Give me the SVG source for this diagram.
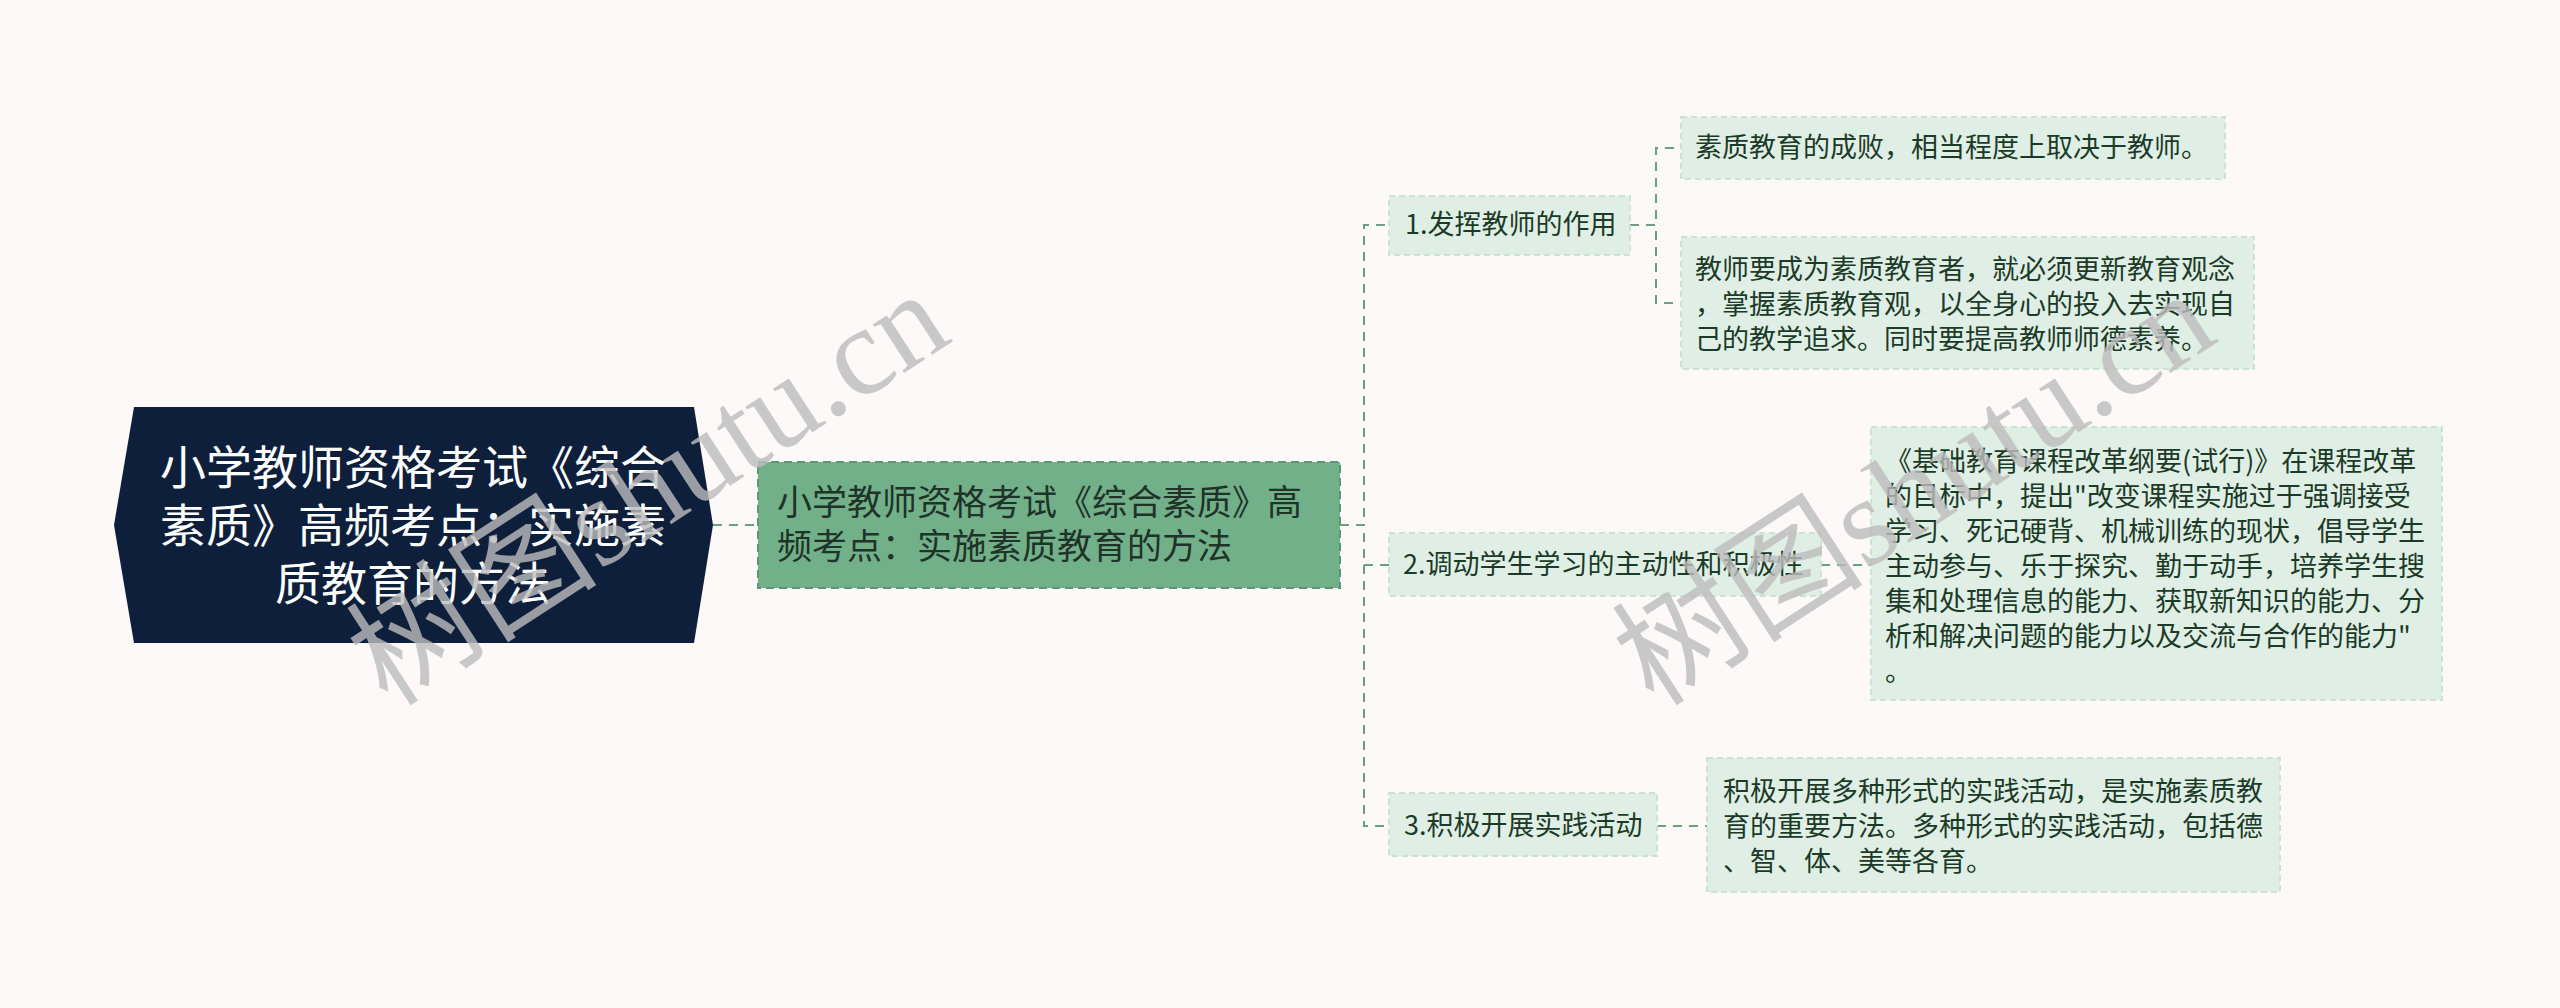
<svg xmlns="http://www.w3.org/2000/svg" width="2560" height="1008" viewBox="0 0 2560 1008">
<defs>
<style>
.t{font-family:"Noto Sans CJK SC","Noto Sans",sans-serif;}
.root-t{fill:#ffffff;font-size:46px;text-anchor:middle;}
.l1-t{fill:#1f3328;font-size:35px;}
.l2-t{fill:#1c3a28;font-size:27px;}
.l2{fill:#e0efe5;stroke:#cce3d4;stroke-width:2;stroke-dasharray:6 4;}
.l1{fill:#72b089;stroke:#5c9773;stroke-width:2;stroke-dasharray:8 5;}
.conn{fill:none;stroke:#6c9f81;stroke-width:2;stroke-dasharray:9 7;}
.wm{font-family:"Liberation Serif","Noto Sans CJK SC",serif;fill:#bdbdbd;opacity:0.8;}
</style>
</defs>
<rect x="0" y="0" width="2560" height="1008" fill="#fcf9f8"/>

<g id="connectors">
<path class="conn" d="M713 525 H758"/>
<path class="conn" d="M1340 525 H1364 V225 H1389"/>
<path class="conn" d="M1340 525 H1364 V565 H1389"/>
<path class="conn" d="M1340 525 H1364 V826 H1389"/>
<path class="conn" d="M1630 225 H1656 V148 H1681"/>
<path class="conn" d="M1630 225 H1656 V303 H1681"/>
<path class="conn" d="M1821 565 H1871"/>
<path class="conn" d="M1657 826 H1707"/>
</g>

<g id="root">
<polygon points="134,407 694,407 713,525 694,643 134,643 114,525" fill="#0e1f3b"/>
<text class="t root-t" x="413" y="484">小学教师资格考试《综合</text>
<text class="t root-t" x="413" y="542">素质》高频考点：实施素</text>
<text class="t root-t" x="413" y="600">质教育的方法</text>
</g>

<g id="main">
<rect class="l1" x="758" y="462" width="582" height="126"/>
<text class="t l1-t" x="777" y="515">小学教师资格考试《综合素质》高</text>
<text class="t l1-t" x="777" y="559">频考点：实施素质教育的方法</text>
</g>

<g id="n1">
<rect class="l2" x="1389" y="196" width="241" height="59"/>
<text class="t l2-t" x="1405" y="234">1.发挥教师的作用</text>
</g>

<g id="n2">
<rect class="l2" x="1389" y="533" width="432" height="63"/>
<text class="t l2-t" x="1403" y="574">2.调动学生学习的主动性和积极性</text>
</g>

<g id="n3">
<rect class="l2" x="1389" y="793" width="268" height="63"/>
<text class="t l2-t" x="1404" y="835">3.积极开展实践活动</text>
</g>

<g id="c1">
<rect class="l2" x="1681" y="117" width="544" height="62"/>
<text class="t l2-t" x="1695" y="157">素质教育的成败，相当程度上取决于教师。</text>
</g>

<g id="c2">
<rect class="l2" x="1681" y="237" width="573" height="132"/>
<text class="t l2-t" x="1695" y="279">教师要成为素质教育者，就必须更新教育观念</text>
<text class="t l2-t" x="1695" y="314">，掌握素质教育观，以全身心的投入去实现自</text>
<text class="t l2-t" x="1695" y="349">己的教学追求。同时要提高教师师德素养。</text>
</g>

<g id="c3">
<rect class="l2" x="1871" y="427" width="571" height="273"/>
<text class="t l2-t" x="1885" y="471">《基础教育课程改革纲要(试行)》在课程改革</text>
<text class="t l2-t" x="1885" y="506">的目标中，提出"改变课程实施过于强调接受</text>
<text class="t l2-t" x="1885" y="541">学习、死记硬背、机械训练的现状，倡导学生</text>
<text class="t l2-t" x="1885" y="576">主动参与、乐于探究、勤于动手，培养学生搜</text>
<text class="t l2-t" x="1885" y="611">集和处理信息的能力、获取新知识的能力、分</text>
<text class="t l2-t" x="1885" y="646">析和解决问题的能力以及交流与合作的能力"</text>
<text class="t l2-t" x="1885" y="681">。</text>
</g>

<g id="c4">
<rect class="l2" x="1707" y="758" width="573" height="134"/>
<text class="t l2-t" x="1723" y="801">积极开展多种形式的实践活动，是实施素质教</text>
<text class="t l2-t" x="1723" y="836">育的重要方法。多种形式的实践活动，包括德</text>
<text class="t l2-t" x="1723" y="871">、智、体、美等各育。</text>
</g>

<g id="watermarks">
<text class="wm" font-size="126" transform="translate(388,708) rotate(-33)">树图shutu.cn</text>
<text class="wm" font-size="126" transform="translate(1654,708) rotate(-33)">树图shutu.cn</text>
</g>
</svg>
